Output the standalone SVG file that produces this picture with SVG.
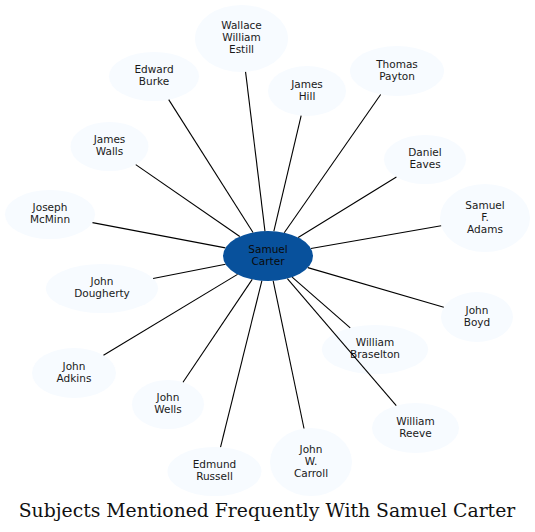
<svg xmlns="http://www.w3.org/2000/svg" width="535" height="532" viewBox="0 0 535 532">
<style>
.n ellipse{fill:#f7fbff;stroke:none}
.n text{font-family:"DejaVu Sans",sans-serif;font-size:10.5px;fill:#1a1a1a;text-anchor:middle}
#n0 ellipse{fill:#08519c}
#n0 text{fill:#0a0a0a}
.e line{stroke:#000;stroke-width:1.1}
.title{font-family:"DejaVu Serif",serif;font-size:18.8px;fill:#111;text-anchor:middle}
</style>
<rect width="535" height="532" fill="#fff"/>
<g id="nodes">
<g id="n0" class="n"><ellipse cx="268" cy="256" rx="45" ry="25"/><text x="268" y="252.5">Samuel</text><text x="268" y="264.5">Carter</text></g>
<g id="n1" class="n"><ellipse cx="241.5" cy="38.5" rx="46.5" ry="33.5"/><text x="241.5" y="29">Wallace</text><text x="241.5" y="41">William</text><text x="241.5" y="53">Estill</text></g>
<g id="n2" class="n"><ellipse cx="154" cy="76.5" rx="45" ry="24.5"/><text x="154" y="73">Edward</text><text x="154" y="85">Burke</text></g>
<g id="n3" class="n"><ellipse cx="109.5" cy="146.5" rx="39" ry="24.5"/><text x="109.5" y="143">James</text><text x="109.5" y="155">Walls</text></g>
<g id="n4" class="n"><ellipse cx="50" cy="214.5" rx="45" ry="24.5"/><text x="50" y="211">Joseph</text><text x="50" y="223">McMinn</text></g>
<g id="n5" class="n"><ellipse cx="307" cy="91" rx="39" ry="25"/><text x="307" y="87.5">James</text><text x="307" y="99.5">Hill</text></g>
<g id="n6" class="n"><ellipse cx="397" cy="71" rx="47" ry="25"/><text x="397" y="67.5">Thomas</text><text x="397" y="79.5">Payton</text></g>
<g id="n7" class="n"><ellipse cx="425" cy="159.5" rx="41" ry="24.5"/><text x="425" y="156">Daniel</text><text x="425" y="168">Eaves</text></g>
<g id="n8" class="n"><ellipse cx="485" cy="218" rx="45" ry="34"/><text x="485" y="208.5">Samuel</text><text x="485" y="220.5">F.</text><text x="485" y="232.5">Adams</text></g>
<g id="n9" class="n"><ellipse cx="102" cy="288.5" rx="56" ry="24.5"/><text x="102" y="285">John</text><text x="102" y="297">Dougherty</text></g>
<g id="n10" class="n"><ellipse cx="477" cy="317" rx="36" ry="25"/><text x="477" y="313.5">John</text><text x="477" y="325.5">Boyd</text></g>
<g id="n11" class="n"><ellipse cx="375" cy="349.5" rx="53" ry="24.5"/><text x="375" y="346">William</text><text x="375" y="358">Braselton</text></g>
<g id="n12" class="n"><ellipse cx="74" cy="373" rx="42" ry="25"/><text x="74" y="369.5">John</text><text x="74" y="381.5">Adkins</text></g>
<g id="n13" class="n"><ellipse cx="168" cy="404.5" rx="36" ry="24.5"/><text x="168" y="401">John</text><text x="168" y="413">Wells</text></g>
<g id="n14" class="n"><ellipse cx="415.5" cy="428" rx="43.5" ry="25"/><text x="415.5" y="424.5">William</text><text x="415.5" y="436.5">Reeve</text></g>
<g id="n15" class="n"><ellipse cx="214.5" cy="471.5" rx="47" ry="24.5"/><text x="214.5" y="468">Edmund</text><text x="214.5" y="480">Russell</text></g>
<g id="n16" class="n"><ellipse cx="311" cy="462" rx="41" ry="34"/><text x="311" y="452.5">John</text><text x="311" y="464.5">W.</text><text x="311" y="476.5">Carroll</text></g>
</g>
<g id="connectors" class="e">
<line x1="264.96" y1="231.06" x2="245.57" y2="71.87"/>
<line x1="253.03" y1="232.43" x2="168.71" y2="99.66"/>
<line x1="239.8" y1="236.52" x2="135.74" y2="164.62"/>
<line x1="225.43" y1="247.9" x2="92.48" y2="222.59"/>
<line x1="273.86" y1="231.21" x2="301.16" y2="115.72"/>
<line x1="284.25" y1="232.69" x2="380.66" y2="94.44"/>
<line x1="298.18" y1="237.45" x2="396.42" y2="177.06"/>
<line x1="310.92" y1="248.48" x2="441.16" y2="225.68"/>
<line x1="225.55" y1="264.31" x2="153.11" y2="278.49"/>
<line x1="307.84" y1="267.63" x2="443.81" y2="307.31"/>
<line x1="292.14" y1="277.1" x2="350.22" y2="327.84"/>
<line x1="237.51" y1="274.39" x2="103.5" y2="355.21"/>
<line x1="252.23" y1="279.42" x2="183" y2="382.22"/>
<line x1="287.35" y1="278.57" x2="396.27" y2="405.57"/>
<line x1="261.85" y1="280.76" x2="220.53" y2="447.2"/>
<line x1="273.19" y1="280.84" x2="304.01" y2="428.5"/>
</g>
<text class="title" x="267" y="517">Subjects Mentioned Frequently With Samuel Carter</text>
</svg>
